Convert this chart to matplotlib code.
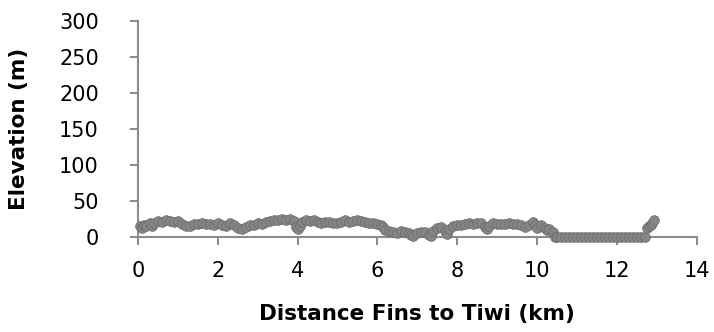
import matplotlib
matplotlib.use("Agg")
import matplotlib.pyplot as plt

distance_km = [
    0.05, 0.1, 0.15, 0.2, 0.3, 0.35, 0.4, 0.5, 0.6, 0.7, 0.8, 0.9, 1.0, 1.1, 1.2, 1.3, 1.4, 1.5,
    1.6, 1.7, 1.8, 1.9, 2.0, 2.1, 2.2, 2.3, 2.4, 2.5, 2.6, 2.7, 2.8, 2.9, 3.0, 3.1, 3.2, 3.3,
    3.4, 3.5, 3.6, 3.7, 3.8, 3.9, 3.95, 4.0, 4.05, 4.1, 4.2, 4.3, 4.4, 4.5, 4.6, 4.7, 4.8, 4.9,
    5.0, 5.1, 5.2, 5.3, 5.4, 5.5, 5.6, 5.7, 5.8, 5.9, 6.0, 6.1, 6.15, 6.2, 6.3, 6.4, 6.5, 6.6,
    6.7, 6.8, 6.85, 6.9, 7.0, 7.1, 7.2, 7.3, 7.35, 7.4, 7.5, 7.6, 7.7, 7.75, 7.8, 7.9, 8.0, 8.1,
    8.2, 8.3, 8.4, 8.5, 8.6, 8.7, 8.75, 8.8, 8.9, 9.0, 9.1, 9.2, 9.3, 9.4, 9.5, 9.6, 9.7, 9.8,
    9.9, 9.95, 10.0, 10.1, 10.2, 10.25, 10.3, 10.4, 10.45,
    10.5, 10.6, 10.7, 10.8, 10.9, 11.0, 11.1, 11.2, 11.3, 11.4, 11.5, 11.6, 11.7, 11.8, 11.9,
    12.0, 12.1, 12.2, 12.3, 12.4, 12.5, 12.6, 12.7,
    12.75, 12.8, 12.85, 12.88, 12.92,
]
elevation_m = [
    15, 13, 17, 16, 19, 15, 20, 22, 21, 23, 22, 21, 22, 18, 15, 16, 18, 18,
    19, 18, 18, 17, 19, 17, 16, 19, 17, 13, 11, 14, 17, 17, 19, 18, 21, 22,
    24, 23, 25, 24, 25, 22, 14, 11, 16, 21, 24, 22, 23, 21, 20, 21, 21, 19,
    20, 21, 23, 21, 22, 23, 22, 21, 20, 20, 18, 17, 14, 10, 8, 7, 6, 8,
    7, 6, 3, 1, 5, 7, 7, 3, 1, 9, 13, 14, 8, 4, 11, 16, 17, 17,
    18, 19, 18, 20, 19, 14, 11, 15, 19, 18, 18, 18, 19, 18, 18, 17, 14, 17,
    21, 17, 12, 17, 13, 10, 11, 7, 0,
    0, 0, 0, 0, 0, 0, 0, 0, 0, 0, 0, 0, 0, 0, 0,
    0, 0, 0, 0, 0, 0, 0, 0,
    13, 15, 17, 20, 24,
]
x_ticks = [0, 2, 4, 6, 8, 10, 12, 14]
y_ticks = [0, 50, 100, 150, 200, 250, 300]

fig = plt.figure(figsize=(7.14, 3.32), dpi=100)
ax = fig.add_axes([0.193, 0.286, 0.783, 0.651])

ax.plot(distance_km, elevation_m, linestyle="none", marker="o", markersize=7,
        markerfacecolor="#858585", markeredgecolor="#6a6a6a", markeredgewidth=0.5,
        clip_on=False, zorder=3)

ax.set_xlim(0, 14)
ax.set_ylim(0, 300)
ax.set_xticks(x_ticks)
ax.set_yticks(y_ticks)

for s in ["top", "right"]:
    ax.spines[s].set_visible(False)
for s in ["left", "bottom"]:
    ax.spines[s].set_color("#8c8c8c")
    ax.spines[s].set_linewidth(1.5)

ax.tick_params(axis="both", direction="out", length=6, width=1.5, color="#8c8c8c",
               labelsize=15, labelcolor="black")
ax.tick_params(axis="y", pad=22)
ax.tick_params(axis="x", pad=11)

ax.set_xlabel("Distance Fins to Tiwi (km)", fontsize=15.5, fontweight="bold", labelpad=17)
ax.set_ylabel("Elevation (m)", fontsize=15.5, fontweight="bold", labelpad=22)

fig.savefig("out.png", dpi=100)
